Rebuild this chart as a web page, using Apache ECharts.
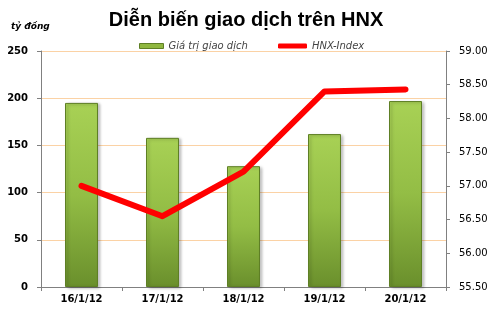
<!DOCTYPE html>
<html><head><meta charset="utf-8">
<script src="https://cdn.jsdelivr.net/npm/echarts@6/dist/echarts.min.js"></script>
<style>html,body{margin:0;padding:0;background:#fff}#c{width:492px;height:317px}</style>
</head><body><div id="c"></div>
<script>
const categories = ['16/1/12','17/1/12','18/1/12','19/1/12','20/1/12'];
const tradeValue = [195, 158, 128, 162, 197];
const hnxIndex = [57.00, 56.55, 57.21, 58.40, 58.43];
const leftTicks = [0, 50, 100, 150, 200, 250];
const rightTicks = ['55.50','56.00','56.50','57.00','57.50','58.00','58.50','59.00'];

const chart = echarts.init(document.getElementById('c'));
const barColor = {type:'linear',x:0,y:0,x2:0,y2:1,colorStops:[{offset:0,color:'#a8d155'},{offset:0.5,color:'#93bd45'},{offset:1,color:'#6a8f2c'}]};
chart.setOption({
  animation:false,
  title:[{text:'Diễn biến giao dịch trên HNX',left:'center',top:5,textStyle:{fontFamily:'Liberation Sans',fontWeight:'bold',fontSize:20,color:'#000'}},
         {text:'tỷ đồng',left:6,top:17,textStyle:{fontFamily:'DejaVu Sans',fontWeight:'bold',fontStyle:'italic',fontSize:9,color:'#000'}}],
  legend:[{top:36,left:134,itemWidth:24,itemHeight:5,
    textStyle:{fontFamily:'DejaVu Sans',fontStyle:'italic',fontSize:10,color:'#444'},
    data:[{name:'Giá trị giao dịch',icon:'rect',itemStyle:{color:'#8fb73f',borderColor:'#5e7f25',borderWidth:1}}]},
   {top:36,left:273,itemWidth:29,itemHeight:5,
    textStyle:{fontFamily:'DejaVu Sans',fontStyle:'italic',fontSize:10,color:'#444'},
    data:[{name:'HNX-Index',icon:'roundRect',itemStyle:{color:'#ff0000'}}]}],
  grid:{left:41,right:46,top:51,bottom:30},
  xAxis:{type:'category',data:categories,
    axisLine:{lineStyle:{color:'#808080'}},
    axisTick:{show:true,alignWithLabel:false,length:4,lineStyle:{color:'#808080'}},
    axisLabel:{fontFamily:'DejaVu Sans',fontWeight:'bold',fontSize:10,color:'#000',margin:7}},
  yAxis:[{type:'value',min:0,max:250,interval:50,
      axisLine:{show:true,lineStyle:{color:'#808080'}},
      axisTick:{show:true,length:4,lineStyle:{color:'#808080'}},
      axisLabel:{fontFamily:'DejaVu Sans',fontWeight:'bold',fontSize:10,color:'#000',margin:13,
        formatter:v=>leftTicks.includes(v)?String(v):''},
      splitLine:{lineStyle:{color:'#fbd2a5'}}},
    {type:'value',min:55.5,max:59,interval:0.5,position:'right',
      axisLine:{show:true,lineStyle:{color:'#808080'}},
      axisTick:{show:true,length:4,lineStyle:{color:'#808080'}},
      axisLabel:{fontFamily:'DejaVu Sans',fontSize:10,color:'#000',margin:13,
        formatter:v=>rightTicks[Math.round((v-55.5)/0.5)]},
      splitLine:{show:false}}],
  series:[{name:'Giá trị giao dịch',type:'bar',data:tradeValue,barWidth:33,
      itemStyle:{color:barColor,borderColor:'#5e7f25',borderWidth:1,shadowColor:'rgba(0,0,0,0.25)',shadowBlur:3,shadowOffsetX:2,shadowOffsetY:1}},
    {name:'HNX-Index',type:'line',yAxisIndex:1,data:hnxIndex,symbol:'none',
      lineStyle:{color:'#ff0000',width:6,cap:'round',join:'round'},itemStyle:{color:'#ff0000'}}]
});
</script></body></html>
